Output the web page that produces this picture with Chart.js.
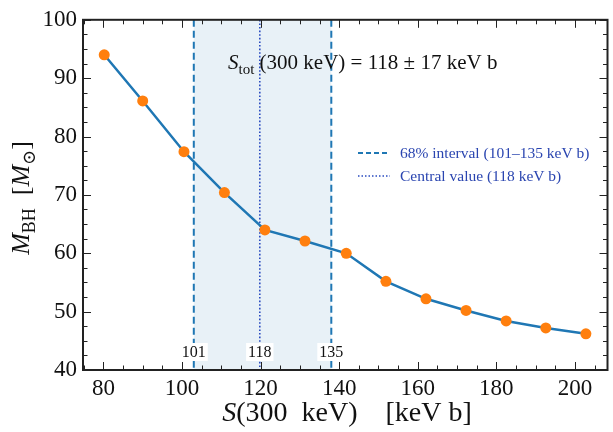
<!DOCTYPE html>
<html>
<head>
<meta charset="utf-8">
<script src="https://cdn.jsdelivr.net/npm/chart.js@4.4.0/dist/chart.umd.min.js"></script>
<style>
  html, body { margin: 0; padding: 0; background: #fff; }
  canvas { display: block; }
</style>
</head>
<body>
<canvas id="chart" width="613" height="432"></canvas>
<script>
// S(300 keV) in keV b, and the black hole mass in solar masses
const sValues = [80.2, 90, 100.5, 110.8, 121.1, 131.3, 141.8, 151.9, 162.1, 172.3, 182.5, 192.6, 202.8];
const massValues = [94.0, 86.1, 77.4, 70.4, 64.0, 62.1, 60.0, 55.2, 52.2, 50.2, 48.4, 47.2, 46.2];

const xTicks = [80, 100, 120, 140, 160, 180, 200];
const yTicks = [40, 50, 60, 70, 80, 90, 100];

// interval lines: low, central, high
const markerX = [103, 119.8, 138];
const markerLabels = ["101", "118", "135"];

const legendLabels = ["68% interval (101\u2013135 keV b)", "Central value (118 keV b)"];

const SERIF = "'Liberation Serif', 'DejaVu Serif', serif";
const BLUE = "#1f77b4";
const DOT_BLUE = "#2a4bc0";

function fontFor(style, size) {
    if (style === "s") return `${Math.round(size * 0.7)}px ${SERIF}`;
    if (style === "i") return `italic ${size}px ${SERIF}`;
    return `${size}px ${SERIF}`;
}

// draw a line of text built from parts like ["S", "i"], ["tot", "s"], [" = 1", ""]
function drawRich(ctx, parts, x, y, size, align) {
    let w = 0;
    parts.forEach(([t, st]) => {
        ctx.font = fontFor(st, size);
        w += ctx.measureText(t).width;
    });
    let cx = align === "center" ? x - w / 2 : x;
    parts.forEach(([t, st]) => {
        ctx.font = fontFor(st, size);
        const dy = st === "s" ? size * 0.22 : 0;
        ctx.fillText(t, cx, y + dy);
        cx += ctx.measureText(t).width;
    });
}

const annotationPlugin = {
    id: "annotations",
    beforeDatasetsDraw(chart) {
        const { ctx, chartArea, scales } = chart;
        const x = scales.x;
        const xLo = x.getPixelForValue(markerX[0]);
        const xMid = x.getPixelForValue(markerX[1]);
        const xHi = x.getPixelForValue(markerX[2]);

        ctx.save();
        // shaded band
        ctx.fillStyle = "rgba(31, 119, 180, 0.1)";
        ctx.fillRect(xLo, chartArea.top, xHi - xLo, chartArea.bottom - chartArea.top);

        // dashed interval lines
        ctx.strokeStyle = BLUE;
        ctx.lineWidth = 2;
        ctx.setLineDash([7, 4]);
        [xLo, xHi].forEach((px) => {
            ctx.beginPath();
            ctx.moveTo(px, chartArea.top);
            ctx.lineTo(px, chartArea.bottom);
            ctx.stroke();
        });

        // dotted central line
        ctx.strokeStyle = DOT_BLUE;
        ctx.lineWidth = 1.6;
        ctx.setLineDash([1.6, 2]);
        ctx.beginPath();
        ctx.moveTo(xMid, chartArea.top);
        ctx.lineTo(xMid, chartArea.bottom);
        ctx.stroke();
        ctx.restore();
    },
    afterDatasetsDraw(chart) {
        const { ctx, chartArea, scales } = chart;
        const x = scales.x;
        const y = scales.y;

        ctx.save();
        ctx.textBaseline = "alphabetic";
        ctx.fillStyle = "#111";

        // labels on the interval lines
        ctx.font = `16px ${SERIF}`;
        ctx.textAlign = "center";
        markerX.forEach((v, i) => {
            const px = x.getPixelForValue(v);
            const w = ctx.measureText(markerLabels[i]).width;
            ctx.fillStyle = "#fff";
            ctx.fillRect(px - w / 2 - 2, 343, w + 4, 18);
            ctx.fillStyle = "#111";
            ctx.fillText(markerLabels[i], px, 357);
        });

        // S_tot annotation
        ctx.textAlign = "left";
        drawRich(ctx, [["S", "i"], ["tot", "s"], [" (300 keV) = 118 \u00b1 17 keV b", ""]], 228, 69, 21, "left");

        // legend
        const rows = [
            { dash: [5, 3], width: 2, color: BLUE, y: 153 },
            { dash: [1.5, 2], width: 1.6, color: DOT_BLUE, y: 176 },
        ];
        rows.forEach((r, i) => {
            ctx.strokeStyle = r.color;
            ctx.lineWidth = r.width;
            ctx.setLineDash(r.dash);
            ctx.beginPath();
            ctx.moveTo(358, r.y);
            ctx.lineTo(390, r.y);
            ctx.stroke();
            ctx.setLineDash([]);
            ctx.fillStyle = "#2a45b0";
            ctx.font = `15.5px ${SERIF}`;
            ctx.fillText(legendLabels[i], 400, r.y + 5);
        });

        // frame
        ctx.setLineDash([]);
        ctx.strokeStyle = "#222";
        ctx.lineWidth = 2;
        ctx.strokeRect(chartArea.left, chartArea.top, chartArea.right - chartArea.left, chartArea.bottom - chartArea.top);

        // inward ticks on all sides
        ctx.lineWidth = 1;
        const tick = (px, py, dx, dy) => {
            ctx.beginPath();
            ctx.moveTo(px, py);
            ctx.lineTo(px + dx, py + dy);
            ctx.stroke();
        };
        for (let v = 75; v <= x.max; v += 5) {
            if (v < x.min) continue;
            const len = v % 20 === 0 ? 8 : 4.5;
            const px = Math.round(x.getPixelForValue(v)) + 0.5;
            tick(px, chartArea.bottom, 0, -len);
            tick(px, chartArea.top, 0, len);
        }
        for (let v = 40; v <= 100; v += 2.5) {
            const len = v % 10 === 0 ? 8 : 4.5;
            const py = Math.round(y.getPixelForValue(v)) + 0.5;
            tick(chartArea.left, py, len, 0);
            tick(chartArea.right, py, -len, 0);
        }

        // axis titles
        ctx.fillStyle = "#111";
        drawRich(ctx, [["S", "i"], ["(300  keV)    [keV b]", ""]], 347, 421, 28, "center");

        ctx.translate(29, 198);
        ctx.rotate(-Math.PI / 2);
        drawRich(ctx, [["M", "i"], ["BH", "s"], ["  [", ""], ["M", "i"], ["\u2299", "s"], ["]", ""]], 0, 0, 26, "center");
        ctx.restore();
    },
};

const ctx = document.getElementById("chart").getContext("2d");

const chart = new Chart(ctx, {
    type: "line",
    data: {
        datasets: [
            {
                data: sValues.map((s, i) => ({ x: s, y: massValues[i] })),
                borderColor: BLUE,
                borderWidth: 2.5,
                pointRadius: 5.5,
                pointBackgroundColor: "#ff7f0e",
                pointBorderColor: "#ff7f0e",
                pointBorderWidth: 0,
                tension: 0,
            },
        ],
    },
    options: {
        responsive: false,
        animation: false,
        layout: { padding: { top: 16, right: 4, left: 0, bottom: 0 } },
        plugins: {
            legend: { display: false },
            tooltip: { enabled: false },
        },
        scales: {
            x: {
                type: "linear",
                min: 74.8,
                max: 208.3,
                afterBuildTicks: (scale) => {
                    scale.ticks = xTicks.map((v) => ({ value: v }));
                },
                afterFit: (scale) => {
                    scale.height = 62;
                },
                grid: { display: false, drawTicks: false },
                border: { display: false },
                ticks: {
                    font: { family: SERIF, size: 23 },
                    color: "#111",
                    padding: 5,
                    maxRotation: 0,
                },
            },
            y: {
                type: "linear",
                min: 40,
                max: 100,
                afterBuildTicks: (scale) => {
                    scale.ticks = yTicks.map((v) => ({ value: v }));
                },
                afterFit: (scale) => {
                    scale.width = 83;
                },
                grid: { display: false, drawTicks: false },
                border: { display: false },
                ticks: {
                    font: { family: SERIF, size: 23 },
                    color: "#111",
                    padding: 6,
                },
            },
        },
    },
    plugins: [annotationPlugin],
});
</script>
</body>
</html>
